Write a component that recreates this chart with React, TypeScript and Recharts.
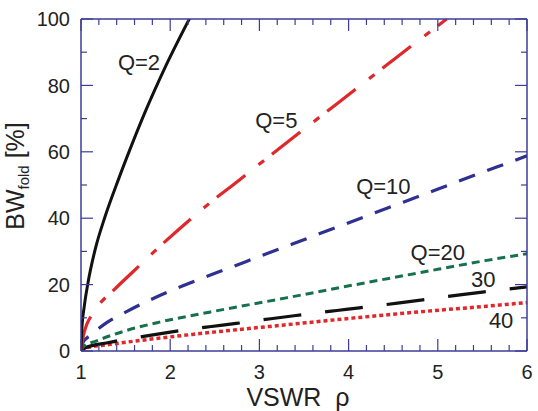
import React from "react";
import { LineChart, Line, XAxis, YAxis, ReferenceDot } from "recharts";

// axis ticks
const xTicks = [1, 1.2, 1.4, 1.6, 1.8, 2, 2.2, 2.4, 2.6, 2.8, 3, 3.2, 3.4, 3.6, 3.8, 4, 4.2, 4.4, 4.6, 4.8, 5, 5.2, 5.4, 5.6, 5.8, 6];
const xMajor = [1, 2, 3, 4, 5, 6];
const yTicks = [0, 10, 20, 30, 40, 50, 60, 70, 80, 90, 100];
const yMajor = [0, 20, 40, 60, 80, 100];

// series: VSWR rho -> BW_fold [%]
const q2Rho = [1, 1.008, 1.037, 1.08, 1.157, 1.27, 1.42, 1.55, 1.73, 1.93, 2.22];
const q2Bw = [0, 6, 13.5, 20.8, 30.4, 40.5, 51.7, 60.8, 72.7, 84.7, 100.3];

const q5Rho = [1, 1.03, 1.16, 1.37, 1.58, 1.9, 2.07, 2.44, 2.78, 3.0, 3.48, 3.87, 4.2, 4.54, 4.89, 5.1];
const q5Bw = [0, 5, 12.3, 18.4, 23.8, 31.9, 36, 44.5, 51.6, 56.3, 66.4, 74.5, 81.4, 88.5, 95.7, 100];

const q10Rho = [1, 1.02, 1.11, 1.28, 1.5, 1.84, 2.25, 2.72, 3.03, 3.37, 3.67, 4.04, 4.43, 4.8, 5.17, 5.66, 6];
const q10Bw = [0, 2.5, 4.8, 8.4, 11.7, 16.2, 20.8, 25.6, 28.8, 32.2, 35.3, 39, 43, 46.7, 50.5, 55.4, 58.8];

const q20Rho = [1, 1.03, 1.16, 1.5, 1.88, 2.44, 3.3, 4.04, 4.8, 5.55, 6];
const q20Bw = [0, 1.4, 2.9, 6.1, 8.7, 11.7, 16, 19.8, 23.6, 27.3, 29.3];

const q30Rho = [1, 1.05, 1.3, 1.72, 2.0, 2.44, 2.74, 3.15, 3.41, 3.87, 4.12, 4.57, 4.83, 5.27, 5.55, 6];
const q30Bw = [0, 1, 2.5, 4.5, 5.7, 7.3, 8.3, 9.8, 10.7, 12.2, 13, 14.5, 15.4, 17, 17.9, 19.3];

const q40Rho = [1, 1.05, 1.3, 1.92, 2.25, 2.78, 3.3, 4.04, 4.8, 5.55, 6];
const q40Bw = [0, 0.9, 1.9, 4, 5, 6.5, 7.9, 9.9, 11.8, 13.5, 14.6];

const labels = ["Q=2", "Q=5", "Q=10", "Q=20", "30", "40"];
const labelRho = [1.65, 3.19, 4.39, 5.0, 5.51, 5.71];
const labelBw = [87, 69.6, 49.7, 29.8, 21.7, 9.3];

const toRows = (xs: number[], ys: number[]) => xs.map((x, i) => ({ x, y: ys[i] }));

const AXIS = "#3d3d98";
const TEXT = "#222";

const BottomTick = (props: any) => {
  const { x, y, payload } = props;
  const major = xMajor.includes(payload.value);
  return (
    <g>
      <line x1={x} x2={x} y1={y} y2={y - (major ? 12 : 6)} stroke={AXIS} strokeWidth={1.2} />
      {major && (
        <text x={x} y={y + 28} textAnchor="middle" fontSize={20} fill={TEXT}>
          {payload.value}
        </text>
      )}
    </g>
  );
};

const TopTick = (props: any) => {
  const { x, y, payload } = props;
  const major = xMajor.includes(payload.value);
  return <line x1={x} x2={x} y1={y} y2={y + (major ? 12 : 6)} stroke={AXIS} strokeWidth={1.2} />;
};

const LeftTick = (props: any) => {
  const { x, y, payload } = props;
  const major = yMajor.includes(payload.value);
  return (
    <g>
      <line x1={x} x2={x + (major ? 12 : 6)} y1={y} y2={y} stroke={AXIS} strokeWidth={1.2} />
      {major && (
        <text x={x - 11} y={y} dy="0.36em" textAnchor="end" fontSize={20} fill={TEXT}>
          {payload.value}
        </text>
      )}
    </g>
  );
};

const RightTick = (props: any) => {
  const { x, y, payload } = props;
  const major = yMajor.includes(payload.value);
  return <line x1={x} x2={x - (major ? 12 : 6)} y1={y} y2={y} stroke={AXIS} strokeWidth={1.2} />;
};

const XTitle = () => (
  <text x={298} y={406} textAnchor="middle" fontSize={25} fill={TEXT}>
    VSWR{"\u00a0\u00a0"}ρ
  </text>
);

const YTitle = () => (
  <text x={24} y={176} textAnchor="middle" fontSize={25} fill={TEXT} transform="rotate(-90, 24, 176)">
    BW
    <tspan fontSize={15} dy={5}>fold</tspan>
    <tspan dy={-5}>{"\u00a0[%]"}</tspan>
  </text>
);

export default function App() {
  return (
    <div style={{ width: 538, height: 411, fontFamily: "'Liberation Sans', Arial, sans-serif" }}>
      <style>{"body{margin:0}"}</style>
      <LineChart width={538} height={411} margin={{ top: 18, right: 10, bottom: 0, left: 0 }}>
        <XAxis
          dataKey="x"
          type="number"
          domain={[1, 6]}
          ticks={xTicks}
          interval={0}
          height={60}
          tickSize={0}
          tickMargin={0}
          tickLine={false}
          tick={<BottomTick />}
          axisLine={{ stroke: AXIS, strokeWidth: 1.5 }}
          label={<XTitle />}
          allowDataOverflow
        />
        <XAxis
          xAxisId="top"
          orientation="top"
          dataKey="x"
          type="number"
          domain={[1, 6]}
          ticks={xTicks}
          interval={0}
          height={1}
          tickSize={0}
          tickMargin={0}
          tickLine={false}
          tick={<TopTick />}
          axisLine={{ stroke: AXIS, strokeWidth: 1.5 }}
          allowDataOverflow
        />
        <YAxis
          type="number"
          domain={[0, 100]}
          ticks={yTicks}
          interval={0}
          width={81}
          tickSize={0}
          tickMargin={0}
          tickLine={false}
          tick={<LeftTick />}
          axisLine={{ stroke: AXIS, strokeWidth: 1.5 }}
          label={<YTitle />}
          allowDataOverflow
        />
        <YAxis
          yAxisId="right"
          orientation="right"
          type="number"
          domain={[0, 100]}
          ticks={yTicks}
          interval={0}
          width={1}
          tickSize={0}
          tickMargin={0}
          tickLine={false}
          tick={<RightTick />}
          axisLine={{ stroke: AXIS, strokeWidth: 1.5 }}
          allowDataOverflow
        />
        <Line data={toRows(q40Rho, q40Bw)} dataKey="y" type="monotone" stroke="#e0282b" strokeWidth={3.5} strokeDasharray="4 3" dot={false} isAnimationActive={false} />
        <Line data={toRows(q30Rho, q30Bw)} dataKey="y" type="monotone" stroke="#111" strokeWidth={3.2} strokeDasharray="38 24" dot={false} isAnimationActive={false} />
        <Line data={toRows(q20Rho, q20Bw)} dataKey="y" type="monotone" stroke="#16704a" strokeWidth={3} strokeDasharray="8 5" dot={false} isAnimationActive={false} />
        <Line data={toRows(q10Rho, q10Bw)} dataKey="y" type="monotone" stroke="#2e3192" strokeWidth={3.2} strokeDasharray="17 13" dot={false} isAnimationActive={false} />
        <Line data={toRows(q5Rho, q5Bw)} dataKey="y" type="monotone" stroke="#e0282b" strokeWidth={3.2} strokeDasharray="36 17 7 10" dot={false} isAnimationActive={false} />
        <Line data={toRows(q2Rho, q2Bw)} dataKey="y" type="monotone" stroke="#111" strokeWidth={3} dot={false} isAnimationActive={false} />
        {labels.map((t, i) => (
          <ReferenceDot
            key={t}
            x={labelRho[i]}
            y={labelBw[i]}
            r={1}
            fill="none"
            stroke="none"
            label={{ value: t, position: "center", fontSize: 22, fill: TEXT }}
          />
        ))}
      </LineChart>
    </div>
  );
}
